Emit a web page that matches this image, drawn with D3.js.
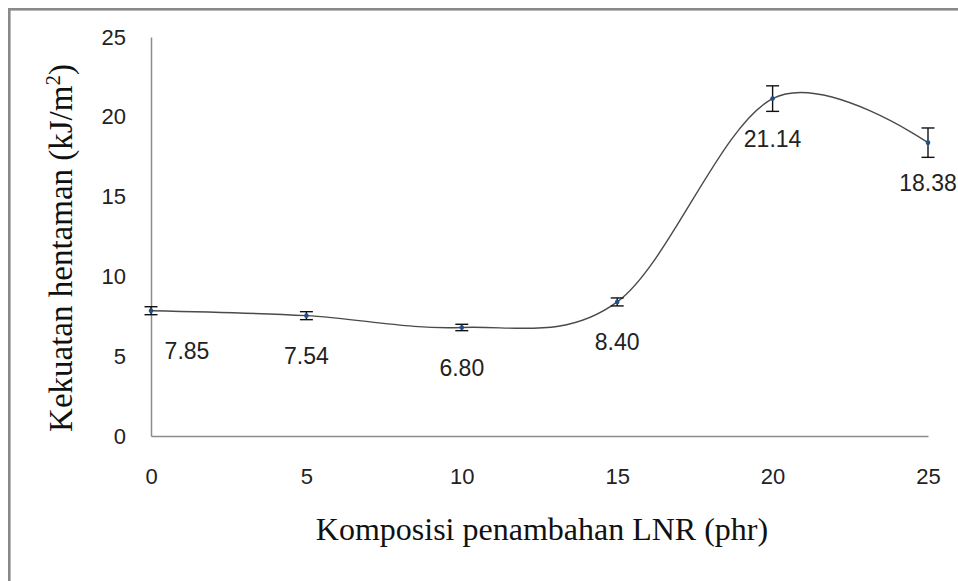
<!DOCTYPE html>
<html><head><meta charset="utf-8">
<script src="https://cdn.jsdelivr.net/npm/d3@7"></script>
<style>body{margin:0;background:#fff}svg{display:block}</style>
</head><body>
<script>
const compositions = [0, 5, 10, 15, 20, 25];
const strength = [7.85, 7.54, 6.80, 8.40, 21.14, 18.38];
const errors = [0.25, 0.25, 0.2, 0.25, 0.8, 0.92];
const yTicks = [0, 5, 10, 15, 20, 25];
const xTicks = [0, 5, 10, 15, 20, 25];
const labels = ["7.85", "7.54", "6.80", "8.40", "21.14", "18.38"];
const xTitle = "Komposisi penambahan LNR (phr)";
const yTitle = "Kekuatan hentaman (kJ/m";

const W = 958, H = 581;
const svg = d3.select("body").append("svg").attr("width", W).attr("height", H);

svg.append("rect").attr("x", 9.3).attr("y", 9.3).attr("width", W + 20).attr("height", H + 20)
  .attr("fill", "none").attr("stroke", "#898989").attr("stroke-width", 2.6);

const x = d3.scaleLinear().domain([0, 25]).range([151, 928]);
const y = d3.scaleLinear().domain([0, 25]).range([436, 37]);

const axisColor = "#8c8c8c";
const tickFont = "'Liberation Sans', Arial, sans-serif";

// y axis
const gy = svg.append("g").attr("transform", `translate(${x(0)},0)`)
  .call(d3.axisLeft(y).tickValues(yTicks).tickSize(0).tickPadding(25).tickFormat(d3.format("d")));
gy.select(".domain").attr("stroke", axisColor).attr("stroke-width", 1.5);
gy.selectAll("text").attr("font-family", tickFont).attr("font-size", 22).attr("fill", "#222");

// x axis
const gx = svg.append("g").attr("transform", `translate(0,${y(0)})`)
  .call(d3.axisBottom(x).tickValues(xTicks).tickSize(0).tickPadding(32).tickFormat(d3.format("d")));
gx.select(".domain").attr("stroke", axisColor).attr("stroke-width", 1.5);
gx.selectAll("text").attr("font-family", tickFont).attr("font-size", 22).attr("fill", "#222");

const data = compositions.map((c, i) => ({ c, v: strength[i], e: errors[i], l: labels[i] }));

// smooth line
svg.append("path").datum(data)
  .attr("d", d3.line().x(d => x(d.c)).y(d => y(d.v)).curve(d3.curveCardinal.tension(0)))
  .attr("fill", "none").attr("stroke", "#4a4a4a").attr("stroke-width", 1.4);

// error bars
const eb = svg.append("g").attr("stroke", "#111").attr("stroke-width", 1.4);
data.forEach(d => {
  eb.append("line").attr("x1", x(d.c)).attr("x2", x(d.c)).attr("y1", y(d.v - d.e)).attr("y2", y(d.v + d.e));
  [d.v - d.e, d.v + d.e].forEach(v => {
    eb.append("line").attr("x1", x(d.c) - 6.5).attr("x2", x(d.c) + 6.5).attr("y1", y(v)).attr("y2", y(v));
  });
});

// markers
svg.append("g").selectAll("circle").data(data).join("circle")
  .attr("cx", d => x(d.c)).attr("cy", d => y(d.v)).attr("r", 2.3).attr("fill", "#1f4e8c");

// data labels
svg.append("g").selectAll("text").data(data).join("text")
  .attr("x", d => Math.max(x(d.c), x(0) + 36))
  .attr("y", d => y(d.v) + 40)
  .attr("dy", "0.35em")
  .attr("text-anchor", "middle")
  .attr("font-family", tickFont).attr("font-size", 23).attr("fill", "#222")
  .text(d => d.l);

// axis titles
const serif = "'Liberation Serif', 'Times New Roman', serif";
svg.append("text").attr("x", 542).attr("y", 540).attr("text-anchor", "middle")
  .attr("font-family", serif).attr("font-size", 32).attr("fill", "#111").text(xTitle);

const yt = svg.append("text").attr("transform", "translate(72,248) rotate(-90)")
  .attr("text-anchor", "middle").attr("font-family", serif).attr("font-size", 33).attr("fill", "#111");
yt.append("tspan").text(yTitle);
yt.append("tspan").attr("baseline-shift", "super").attr("font-size", 21).text("2");
yt.append("tspan").text(")");
</script>
</body></html>
